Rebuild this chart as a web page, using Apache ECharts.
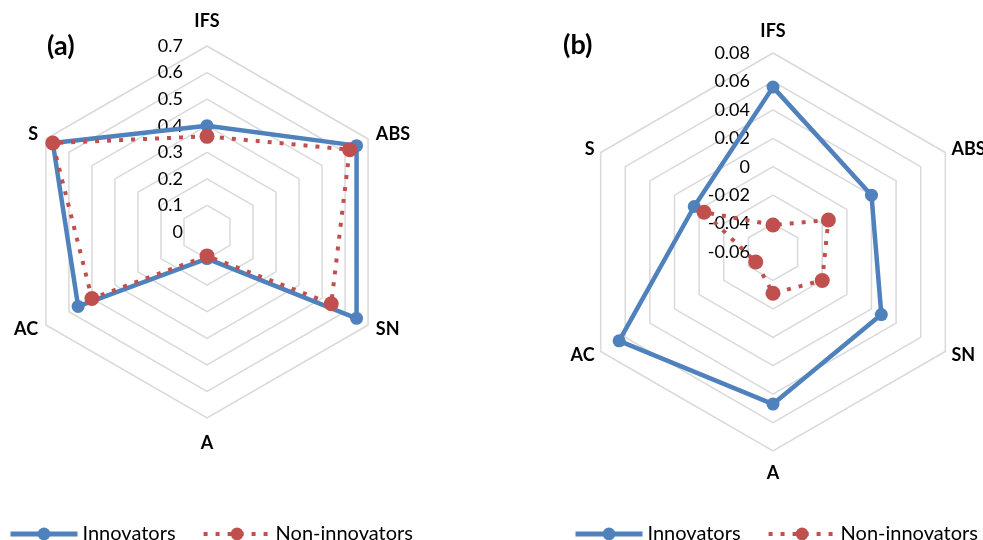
<!DOCTYPE html>
<html>
<head>
<meta charset="utf-8">
<script src="https://cdn.jsdelivr.net/npm/echarts@6/dist/echarts.min.js"></script>
<style>
  html, body { margin: 0; padding: 0; background: #fff; }
  #chart { width: 983px; height: 540px; }
</style>
</head>
<body>
<div id="chart"></div>
<script>
// Dimensions, in the order they are drawn around each web (counter-clockwise from the top)
const categories = ['IFS', 'S', 'AC', 'A', 'SN', 'ABS'];

// Panel (a)
const innovatorsA = [0.40, 0.67, 0.56, 0.10, 0.65, 0.65];
const nonInnovatorsA = [0.36, 0.67, 0.50, 0.09, 0.54, 0.62];
const rangeA = [0, 0.7];

// Panel (b)
const innovatorsB = [0.056, 0.004, 0.065, 0.047, 0.028, 0.020];
const nonInnovatorsB = [-0.041, -0.004, -0.046, -0.031, -0.020, -0.015];
const rangeB = [-0.06, 0.08];

const panelLabels = ['(a)', '(b)'];
const seriesNames = ['Innovators', 'Non-innovators'];

const FONT = 'Lato, "Open Sans", sans-serif';
const BLUE = '#4f81bd';
const RED = '#c0504d';

function tickFormatter(digits) {
  return function (v) {
    return Math.abs(v) < 1e-9 ? '0' : v.toFixed(digits);
  };
}

// gaps: [top/bottom axis names, side axis names]
function makeRadar(center, radius, range, digits, labelMargin, gaps) {
  return {
    center: center,
    radius: radius,
    shape: 'polygon',
    splitNumber: 7,
    startAngle: 90,
    axisNameGap: gaps[1],
    axisName: { color: '#000', fontFamily: FONT, fontSize: 18, fontWeight: 'bold' },
    splitLine: { lineStyle: { color: '#d9d9d9', width: 1.5 } },
    splitArea: { show: false },
    axisLine: { show: false },
    axisTick: { show: false },
    axisLabel: { show: false },
    indicator: categories.map(function (name, i) {
      const ind = { name: name, min: range[0], max: range[1] };
      if (i === 0 || i === 3) ind.nameGap = gaps[0];
      if (i === 0) {
        ind.axisLabel = {
          show: true,
          color: '#000',
          fontFamily: FONT,
          fontSize: 18,
          margin: labelMargin,
          formatter: tickFormatter(digits)
        };
      }
      return ind;
    })
  };
}

const blueLine = { color: BLUE, width: 4.5, join: 'round' };
const redLine = { color: RED, width: 4, type: [4, 8], cap: 'butt', join: 'round' };

function radarSeries(radarIndex, innov, nonInnov) {
  return [
    {
      type: 'radar', radarIndex: radarIndex, name: seriesNames[0],
      symbol: 'circle', symbolSize: 13,
      itemStyle: { color: BLUE },
      lineStyle: blueLine,
      data: [{ value: innov, name: seriesNames[0] }]
    },
    {
      type: 'radar', radarIndex: radarIndex, name: seriesNames[1],
      symbol: 'circle', symbolSize: 15,
      itemStyle: { color: RED },
      lineStyle: redLine,
      data: [{ value: nonInnov, name: seriesNames[1] }]
    }
  ];
}

// Line-style series used only so the legend shows a line with a marker
const legendKeys = [
  { type: 'line', name: seriesNames[0], data: [], symbol: 'circle', itemStyle: { color: BLUE }, lineStyle: blueLine },
  { type: 'line', name: seriesNames[1], data: [], symbol: 'circle', itemStyle: { color: RED }, lineStyle: redLine }
];

function makeLegend(left) {
  return {
    left: left, top: 519,
    itemWidth: 67, itemHeight: 16, itemGap: 26,
    textStyle: { color: '#000', fontFamily: FONT, fontSize: 20 },
    data: [
      { name: seriesNames[0], lineStyle: { width: 5, color: BLUE } },
      { name: seriesNames[1], lineStyle: { width: 4, color: RED, type: [4, 8] } }
    ]
  };
}

const chart = echarts.init(document.getElementById('chart'), null, { renderer: 'canvas' });
chart.setOption({
  animation: false,
  backgroundColor: '#fff',
  title: [
    { text: panelLabels[0], left: 42, top: 28, textStyle: { fontFamily: FONT, fontSize: 27, fontWeight: 'bold', color: '#000' } },
    { text: panelLabels[1], left: 558, top: 27, textStyle: { fontFamily: FONT, fontSize: 27, fontWeight: 'bold', color: '#000' } }
  ],
  legend: [makeLegend(3), makeLegend(568)],
  grid: { left: 0, top: 0, width: 1, height: 1, show: false },
  xAxis: { type: 'value', show: false },
  yAxis: { type: 'value', show: false },
  radar: [
    makeRadar([207, 232], 186, rangeA, 1, 24, [16, 9]),
    makeRadar([773, 252], 199, rangeB, 2, 23, [13, 7])
  ],
  series: legendKeys
    .concat(radarSeries(0, innovatorsA, nonInnovatorsA))
    .concat(radarSeries(1, innovatorsB, nonInnovatorsB))
});
</script>
</body>
</html>
